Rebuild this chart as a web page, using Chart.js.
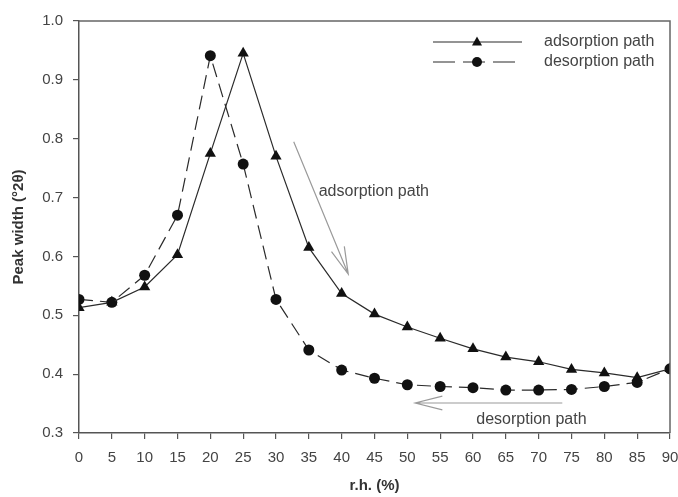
<!DOCTYPE html>
<html>
<head>
<meta charset="utf-8">
<script src="https://cdn.jsdelivr.net/npm/chart.js@4.4.0/dist/chart.umd.min.js"></script>
<style>
  html, body { margin: 0; padding: 0; background: #fff; }
  #wrap { width: 678px; height: 497px; }
</style>
</head>
<body>
<div id="wrap"><canvas id="grafico" width="678" height="497"></canvas></div>
<script>
// ------------------------
// Dados
// ------------------------

const umidade = [0, 5, 10, 15, 20, 25, 30, 35, 40, 45, 50, 55, 60, 65, 70, 75, 80, 85, 90];

const adsorcao = [0.513, 0.522, 0.548, 0.603, 0.775, 0.945, 0.770, 0.615, 0.537, 0.502,
                  0.480, 0.461, 0.443, 0.429, 0.421, 0.408, 0.402, 0.394, 0.409];

const dessorcao = [0.527, 0.522, 0.568, 0.670, 0.941, 0.757, 0.527, 0.441, 0.407, 0.393,
                   0.382, 0.379, 0.377, 0.373, 0.373, 0.374, 0.379, 0.386, 0.409];

const ticksX = umidade;
const ticksY = [0.3, 0.4, 0.5, 0.6, 0.7, 0.8, 0.9, 1.0];

// setas de anotação (em unidades dos eixos)
const setaAdsorcao = { de: [32.7, 0.795], para: [41.0, 0.570], texto: 'adsorption path', pos: [36.5, 0.710], alinhar: 'left' };
const setaDessorcao = { de: [73.6, 0.351], para: [51.2, 0.351], texto: 'desorption path', pos: [68.9, 0.323], alinhar: 'center' };

const corLinha = '#2a2a2a';
const fonte = '"Liberation Sans", Arial, sans-serif';

// ------------------------
// Plugin: legenda e setas
// ------------------------

function desenharSeta(ctx, x1, y1, x2, y2) {
  const ang = Math.atan2(y2 - y1, x2 - x1);
  const tam = 28, abertura = 0.25;
  ctx.beginPath();
  ctx.moveTo(x1, y1);
  ctx.lineTo(x2, y2);
  ctx.moveTo(x2 - tam * Math.cos(ang - abertura), y2 - tam * Math.sin(ang - abertura));
  ctx.lineTo(x2, y2);
  ctx.lineTo(x2 - tam * Math.cos(ang + abertura), y2 - tam * Math.sin(ang + abertura));
  ctx.stroke();
}

const anotacoes = {
  id: 'anotacoes',
  afterDraw(chart) {
    const ctx = chart.ctx;
    const sx = chart.scales.x, sy = chart.scales.y;
    ctx.save();

    // setas
    ctx.strokeStyle = '#9a9a9a';
    ctx.lineWidth = 1.2;
    [setaAdsorcao, setaDessorcao].forEach(s => {
      desenharSeta(ctx,
        sx.getPixelForValue(s.de[0]), sy.getPixelForValue(s.de[1]),
        sx.getPixelForValue(s.para[0]), sy.getPixelForValue(s.para[1]));
      ctx.fillStyle = '#444';
      ctx.font = '16px ' + fonte;
      ctx.textAlign = s.alinhar;
      ctx.textBaseline = 'middle';
      ctx.fillText(s.texto, sx.getPixelForValue(s.pos[0]), sy.getPixelForValue(s.pos[1]));
    });

    // legenda
    const itens = [
      { y: 42, dash: [], marcador: 'triangle', texto: 'adsorption path' },
      { y: 62, dash: [22, 8], marcador: 'circle', texto: 'desorption path' }
    ];
    itens.forEach(it => {
      ctx.strokeStyle = corLinha;
      ctx.lineWidth = 1.2;
      ctx.setLineDash(it.dash);
      ctx.beginPath();
      ctx.moveTo(433, it.y);
      ctx.lineTo(522, it.y);
      ctx.stroke();
      ctx.setLineDash([]);
      ctx.fillStyle = '#111';
      ctx.beginPath();
      if (it.marcador === 'circle') {
        ctx.arc(477, it.y, 5, 0, Math.PI * 2);
      } else {
        ctx.moveTo(477, it.y - 5.5);
        ctx.lineTo(482, it.y + 3.5);
        ctx.lineTo(472, it.y + 3.5);
        ctx.closePath();
      }
      ctx.fill();
      ctx.fillStyle = '#444';
      ctx.font = '16px ' + fonte;
      ctx.textAlign = 'left';
      ctx.textBaseline = 'middle';
      ctx.fillText(it.texto, 544, it.y);
    });

    // moldura superior e direita
    ctx.strokeStyle = '#666';
    ctx.lineWidth = 1.5;
    const a = chart.chartArea;
    ctx.beginPath();
    ctx.moveTo(a.left, a.top);
    ctx.lineTo(a.right, a.top);
    ctx.lineTo(a.right, a.bottom);
    ctx.stroke();
    ctx.restore();
  }
};

// ------------------------
// Gráfico
// ------------------------

const ctx = document.getElementById('grafico').getContext('2d');
new Chart(ctx, {
  type: 'line',
  data: {
    datasets: [
      {
        label: 'adsorption path',
        data: umidade.map((x, i) => ({ x, y: adsorcao[i] })),
        borderColor: corLinha,
        borderWidth: 1.2,
        backgroundColor: '#111',
        pointStyle: 'triangle',
        pointRadius: 6.5,
        pointBorderWidth: 0,
        tension: 0
      },
      {
        label: 'desorption path',
        data: umidade.map((x, i) => ({ x, y: dessorcao[i] })),
        borderColor: corLinha,
        borderWidth: 1.2,
        borderDash: [14, 7],
        backgroundColor: '#111',
        pointStyle: 'circle',
        pointRadius: 5.5,
        pointBorderWidth: 0,
        tension: 0
      }
    ]
  },
  options: {
    responsive: false,
    animation: false,
    layout: { padding: { left: 0, top: 21, right: 8, bottom: 0 } },
    plugins: {
      legend: { display: false },
      tooltip: { enabled: false }
    },
    scales: {
      x: {
        type: 'linear',
        min: 0,
        max: 90,
        afterBuildTicks: s => { s.ticks = ticksX.map(v => ({ value: v })); },
        afterFit: s => { s.height = 64; s.paddingLeft = 0; s.paddingRight = 0; },
        ticks: { color: '#444', font: { family: fonte, size: 15 }, padding: 10, maxRotation: 0 },
        grid: { drawOnChartArea: false, tickLength: 6, color: '#555', lineWidth: 1.2 },
        border: { color: '#555', width: 1.5 },
        title: {
          display: true,
          text: 'r.h. (%)',
          color: '#333',
          font: { family: fonte, size: 15, weight: 'bold' },
          padding: { top: 0, bottom: 2 }
        }
      },
      y: {
        type: 'linear',
        min: 0.3,
        max: 1.0,
        afterBuildTicks: s => { s.ticks = ticksY.map(v => ({ value: v })); },
        afterFit: s => { s.width = 79; s.paddingTop = 0; s.paddingBottom = 0; },
        ticks: {
          color: '#444',
          font: { family: fonte, size: 15 },
          padding: 10,
          callback: v => v.toFixed(1)
        },
        grid: { drawOnChartArea: false, tickLength: 6, color: '#555', lineWidth: 1.2 },
        border: { color: '#555', width: 1.5 },
        title: {
          display: true,
          text: 'Peak width (°2θ)',
          color: '#333',
          font: { family: fonte, size: 15, weight: 'bold' },
          padding: { top: 10, bottom: 4 }
        }
      }
    }
  },
  plugins: [anotacoes]
});
</script>
</body>
</html>
